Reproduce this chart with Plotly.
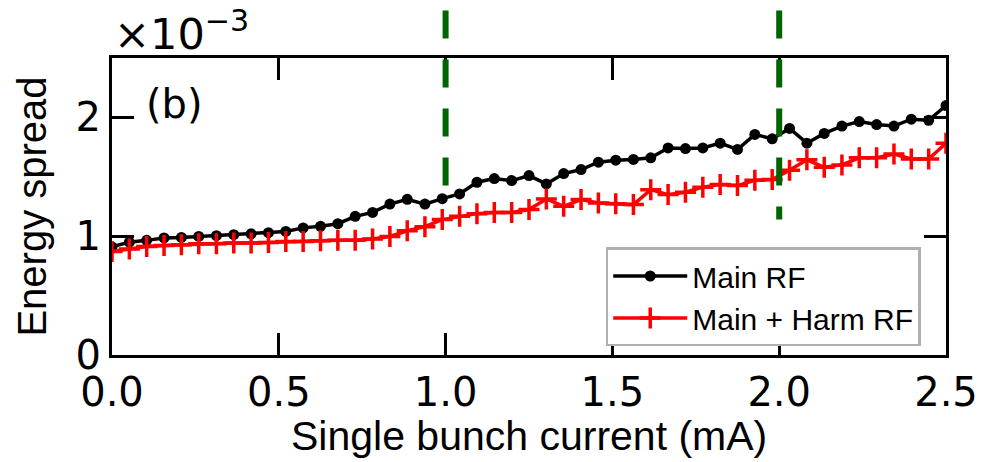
import plotly.graph_objects as go

# Single bunch current (mA)
current_ma = [0.0, 0.052, 0.104, 0.156, 0.208, 0.26, 0.313, 0.365, 0.417, 0.469,
              0.521, 0.573, 0.625, 0.677, 0.729, 0.781, 0.833, 0.885, 0.938, 0.99,
              1.042, 1.094, 1.146, 1.198, 1.25, 1.302, 1.354, 1.406, 1.458, 1.51,
              1.563, 1.615, 1.667, 1.719, 1.771, 1.823, 1.875, 1.927, 1.979, 2.031,
              2.083, 2.135, 2.188, 2.24, 2.292, 2.344, 2.396, 2.448, 2.5]

# Energy spread in units of 1e-3
spread_main = [0.91, 0.95, 0.965, 0.985, 0.99, 0.998, 1.004, 1.013, 1.02, 1.03,
               1.04, 1.07, 1.083, 1.105, 1.167, 1.2, 1.27, 1.31, 1.27, 1.316,
               1.356, 1.454, 1.485, 1.468, 1.51, 1.44, 1.527, 1.561, 1.623, 1.64,
               1.646, 1.66, 1.743, 1.738, 1.743, 1.783, 1.73, 1.857, 1.82, 1.907,
               1.783, 1.865, 1.927, 1.965, 1.94, 1.927, 1.985, 1.976, 2.1]

spread_harm = [0.872, 0.892, 0.914, 0.922, 0.928, 0.937, 0.937, 0.942, 0.942, 0.948,
               0.956, 0.956, 0.962, 0.965, 0.965, 0.976, 0.998, 1.046, 1.08, 1.14,
               1.167, 1.19, 1.2, 1.2, 1.224, 1.314, 1.252, 1.308, 1.28, 1.274,
               1.266, 1.392, 1.35, 1.37, 1.413, 1.435, 1.426, 1.47, 1.477, 1.556,
               1.643, 1.58, 1.6, 1.66, 1.66, 1.692, 1.65, 1.65, 1.783]

x_ticks = [0.0, 0.5, 1.0, 1.5, 2.0, 2.5]
x_tick_text = ["0.0", "0.5", "1.0", "1.5", "2.0", "2.5"]
y_ticks = [0, 1, 2]
y_tick_text = ["0", "1", "2"]

marker_lines_x = [1.0, 2.0]
marker_lines_bottom = [1.35, 1.14]
marker_lines_top = 2.9

X_RANGE = [0, 2.5]
Y_RANGE = [0, 2.5]

fig = go.Figure()
fig.add_trace(go.Scatter(
    x=current_ma, y=spread_main, mode="lines+markers", name="Main RF",
    line=dict(color="black", width=3.5),
    marker=dict(symbol="circle", size=11, color="black"),
))
fig.add_trace(go.Scatter(
    x=current_ma, y=spread_harm, mode="lines+markers", name="Main + Harm RF",
    line=dict(color="#ff0000", width=3.5),
    marker=dict(symbol="cross-thin", size=15, color="#ff0000",
                line=dict(color="#ff0000", width=3.5)),
))

for xv, yb in zip(marker_lines_x, marker_lines_bottom):
    fig.add_shape(type="line", xref="x", yref="paper",
                  x0=xv, x1=xv,
                  y0=marker_lines_top / Y_RANGE[1], y1=yb / Y_RANGE[1],
                  line=dict(color="#006400", width=6, dash="28px,21px"),
                  layer="above")

axis_common = dict(
    showline=True, linecolor="black", linewidth=3, mirror="ticks",
    ticks="inside", ticklen=22, tickwidth=3, tickcolor="black",
    showgrid=False, zeroline=False,
    tickfont=dict(family="DejaVu Sans", size=40, color="black"),
)

fig.update_xaxes(range=X_RANGE, tickvals=x_ticks, ticktext=x_tick_text, **axis_common)
fig.update_yaxes(range=Y_RANGE, tickvals=y_ticks, ticktext=y_tick_text, **axis_common)

fig.update_layout(
    width=1002, height=462,
    margin=dict(l=112, r=56, t=58, b=107),
    paper_bgcolor="white", plot_bgcolor="white",
    showlegend=True,
    legend=dict(
        x=0.592, y=0.362, xanchor="left", yanchor="top",
        bgcolor="white", bordercolor="#b0b0b0", borderwidth=2.5,
        font=dict(family="Liberation Sans", size=30, color="black"),
        itemwidth=74,
    ),
    annotations=[
        dict(text="Single bunch current (mA)", xref="paper", yref="paper",
             x=0.5, y=-0.272, xanchor="center", yanchor="middle", showarrow=False,
             font=dict(family="Liberation Sans", size=41, color="black")),
        dict(text="Energy spread", xref="paper", yref="paper", textangle=-90,
             x=-0.097, y=0.5, xanchor="center", yanchor="middle", showarrow=False,
             font=dict(family="Liberation Sans", size=40, color="black")),
        dict(text="(b)", xref="paper", yref="paper",
             x=0.038, y=0.845, xanchor="left", yanchor="middle", showarrow=False,
             font=dict(family="DejaVu Sans", size=40, color="black")),
        dict(text="×10<sup>−3</sup>", xref="paper", yref="paper",
             x=0.0, y=0.99, xanchor="left", yanchor="bottom", showarrow=False,
             font=dict(family="DejaVu Sans", size=43, color="black")),
    ],
)

fig.write_html("out.html")
